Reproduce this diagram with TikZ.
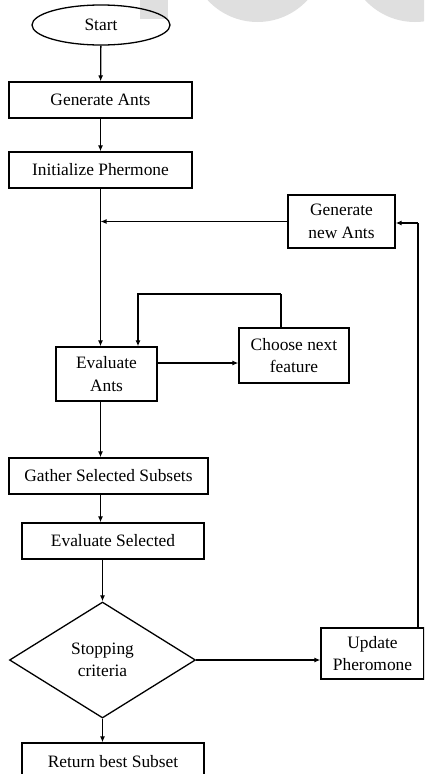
\documentclass[tikz,border=0pt]{standalone}
\usepackage{fontspec}
\setmainfont{Liberation Serif}
\usetikzlibrary{shapes.geometric,arrows.meta}
\begin{document}
\begin{tikzpicture}[x=1pt,y=-1pt,
  every node/.style={font=\fontsize{17.4}{22.5}\selectfont, align=center, inner sep=0pt},
  box/.style={draw, line width=1.3pt, rectangle},
  flow/.style={line width=1.3pt, -{Latex[length=6pt,width=5pt]}},
  plain/.style={line width=1.3pt}]
\useasboundingbox (0,0) rectangle (424,774);
\clip (0,0) rectangle (424,774);
% light grey shapes along the top edge
\fill[gray!25] (140,0) rectangle (168,19);
\fill[gray!25] (257.5,-45.8) circle[radius=67.8];
\fill[gray!25] (415,-45.8) circle[radius=67.8];
% nodes
\node[draw, line width=1.3pt, ellipse, minimum width=138, minimum height=40] (start) at (101,25) {Start};
\node[box, minimum width=183, minimum height=36] (gen) at (100.5,100) {Generate Ants};
\node[box, minimum width=183, minimum height=36] (init) at (100.5,170) {Initialize Phermone};
\node[box, minimum width=107, minimum height=53] (newants) at (341.5,221.5) {Generate\\new Ants};
\node[box, minimum width=101, minimum height=54] (eval) at (106.5,374) {Evaluate\\Ants};
\node[box, minimum width=110, minimum height=55] (choose) at (294,355.5) {Choose next\\feature};
\node[box, minimum width=199, minimum height=36] (gather) at (108.5,476) {Gather Selected Subsets};
\node[box, minimum width=182, minimum height=36] (evalsel) at (113,541) {\raisebox{2pt}{Evaluate Selected}};
\node[draw, line width=1.3pt, diamond, minimum width=186, minimum height=116] (stop) at (102.5,660) {Stopping\\criteria};
\node[box, minimum width=103, minimum height=51] (update) at (372.5,653.5) {Update\\Pheromone};
\node[box, minimum width=182, minimum height=38] (ret) at (113,762) {\raisebox{2pt}{Return best Subset}};
% helper points
\coordinate (looptop) at (281,294);
\coordinate (rail) at (418,223);
% connectors
\draw[flow] (start) -- (gen);
\draw[flow] (gen) -- (init);
\draw[flow] (init.south) -- (init.south |- eval.north);
\draw[flow] (newants.west) -- (newants.west -| init.south);
\draw[plain] (choose.north -| looptop) -- (looptop);
\draw[flow] (looptop) -| ([xshift=31.5pt]eval.north);
\draw[flow] ([yshift=11pt]eval.east) -- ([yshift=11pt]eval.east -| choose.west);
\draw[flow] (eval.south -| init.south) -- (gather.north -| init.south);
\draw[flow] (gather.south -| init.south) -- (evalsel.north -| init.south);
\draw[flow] (evalsel.south -| stop.north) -- (stop.north);
\draw[flow] (stop.east) -- (stop.east -| update.west);
\draw[plain] (update.north -| rail) -- (rail);
\draw[flow] (rail) -- (rail -| newants.east);
\draw[flow] (stop.south) -- (stop.south |- ret.north);
\end{tikzpicture}
\end{document}
